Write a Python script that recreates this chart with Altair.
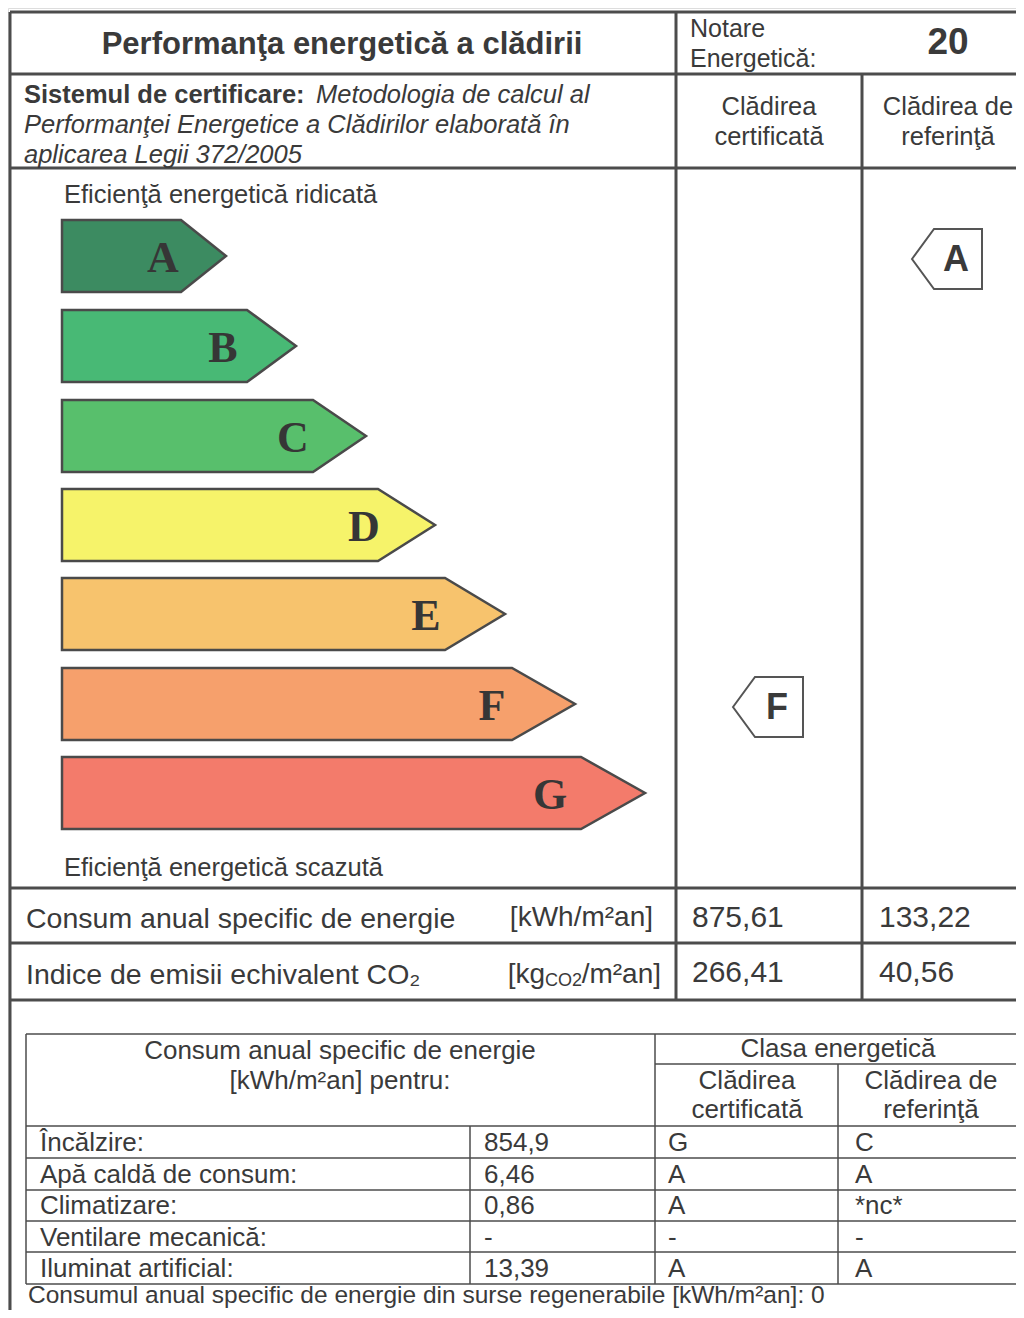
import altair as alt
import pandas as pd

# ------------------------------------------------------------------ data
title_text = "Performanţa energetică a clădirii"
rating_label = ["Notare", "Energetică:"]
rating_value = 20
system_bold = "Sistemul de certificare:"
system_lines = ["Metodologia de calcul al",
                "Performanţei Energetice a Clădirilor elaborată în",
                "aplicarea Legii 372/2005"]
col_cert = ["Clădirea", "certificată"]
col_ref = ["Clădirea de", "referinţă"]
classes = ["A", "B", "C", "D", "E", "F", "G"]
top_label = "Eficienţă energetică ridicată"
bottom_label = "Eficienţă energetică scazută"
certified_class = "F"
reference_class = "A"
summary_labels = ["Consum anual specific de energie", "Indice de emisii echivalent CO₂"]
summary_cert = [875.61, 266.41]
summary_ref = [133.22, 40.56]
detail_head = ["Consum anual specific de energie", "[kWh/m²an] pentru:"]
detail_class_head = "Clasa energetică"
detail_uses = ["Încălzire:", "Apă caldă de consum:", "Climatizare:",
               "Ventilare mecanică:", "Iluminat artificial:"]
detail_values = [854.9, 6.46, 0.86, None, 13.39]
detail_class_cert = ["G", "A", "A", "-", "A"]
detail_class_ref = ["C", "A", "*nc*", "-", "A"]
renewable_label = "Consumul anual specific de energie din surse regenerabile  [kWh/m²an]: "
renewable_value = 0

# ------------------------------------------------------------------ styles / layout
class_colors = ["#3c8b61", "#48b975", "#58bf6c", "#f6f36a", "#f7c36d", "#f6a06c", "#f37b6b"]
INK = "#3a3a3a"
LINE = "#4c4c4c"
W, H = 1008, 1302
X0, Y0 = 8, 8
XS = alt.Scale(domain=[X0, X0 + W], nice=False, zero=False)
YS = alt.Scale(domain=[Y0, Y0 + H], nice=False, zero=False, reverse=True)

row_y = [256, 346, 436, 525, 614, 704, 793]
tip_x = [226, 296, 366, 435, 505, 575, 645]
tip_len = [45, 49, 53, 57, 60, 63, 64]
letter_x = [163, 223, 293, 364, 426, 492, 550]
bar_left = 62
bar_half = 36


def fmt(v):
    if v is None:
        return "-"
    return str(v).replace(".", ",")


# ------------------------------------------------------------------ rules (table lines)
segs = []
def seg(x, x2, y, y2, w):
    segs.append(dict(x=x, x2=x2, y=y, y2=y2, w=w))

for yy in [12, 74, 168, 888, 943, 1000]:
    seg(10, 1030, yy, yy, 3)
seg(10, 10, 12, 1318, 3)
seg(676, 676, 12, 1000, 3)
seg(862, 862, 74, 1000, 3)
for yy in [1034, 1126, 1158, 1190, 1221, 1252, 1284]:
    seg(26, 1020, yy, yy, 1.5)
seg(655, 1020, 1064, 1064, 1.5)
seg(26, 26, 1034, 1284, 1.5)
seg(655, 655, 1034, 1284, 1.5)
seg(1020, 1020, 1034, 1284, 1.5)
seg(838, 838, 1064, 1284, 1.5)
seg(470, 470, 1126, 1284, 1.5)
seg_df = pd.DataFrame(segs)

rules = alt.Chart(seg_df).mark_rule(color=LINE).encode(
    x=alt.X("x:Q", scale=XS, axis=None),
    x2="x2:Q",
    y=alt.Y("y:Q", scale=YS, axis=None),
    y2="y2:Q",
    strokeWidth=alt.StrokeWidth("w:Q", scale=None),
)

# ------------------------------------------------------------------ class arrows
arrow_pts = []
for i, c in enumerate(classes):
    top, bot, mid = row_y[i] - bar_half, row_y[i] + bar_half, row_y[i]
    arrow_pts.append(dict(cls=c, x=bar_left, y=top, y2=bot))
    arrow_pts.append(dict(cls=c, x=tip_x[i] - tip_len[i], y=top, y2=bot))
    arrow_pts.append(dict(cls=c, x=tip_x[i], y=mid, y2=mid))
arrow_df = pd.DataFrame(arrow_pts)

arrows = alt.Chart(arrow_df).mark_area(stroke="#4a4a4a", strokeWidth=2.5,
                                       interpolate="linear", opacity=1).encode(
    x=alt.X("x:Q", scale=XS, axis=None),
    y=alt.Y("y:Q", scale=YS, axis=None),
    y2="y2:Q",
    detail="cls:N",
    color=alt.Color("cls:N", scale=alt.Scale(domain=classes, range=class_colors), legend=None),
)

letter_df = pd.DataFrame([
    dict(cls=c, x=letter_x[i], y=row_y[i] + 3)
    for i, c in enumerate(classes)
])
letters = alt.Chart(letter_df).mark_text(
    font="Liberation Serif", fontWeight="bold", fontSize=44, color="#363636",
    align="center", baseline="middle").encode(
    x=alt.X("x:Q", scale=XS, axis=None),
    y=alt.Y("y:Q", scale=YS, axis=None),
    text="cls:N",
)

# ------------------------------------------------------------------ indicator arrows
ind_specs = [(certified_class, 733, 803), (reference_class, 912, 982)]
ind_pts, ind_txt = [], []
for c, tx_, rx in ind_specs:
    i = classes.index(c)
    cy = row_y[i] + 3
    ind_pts.append(dict(k=c + "i", x=tx_, y=cy, y2=cy))
    ind_pts.append(dict(k=c + "i", x=tx_ + 22, y=cy - 30, y2=cy + 30))
    ind_pts.append(dict(k=c + "i", x=rx, y=cy - 30, y2=cy + 30))
    ind_txt.append(dict(t=c, x=(tx_ + 22 + rx) / 2 - 2, y=cy + 1))
ind = alt.Chart(pd.DataFrame(ind_pts)).mark_area(
    fill="white", stroke="#555555", strokeWidth=2, interpolate="linear").encode(
    x=alt.X("x:Q", scale=XS, axis=None),
    y=alt.Y("y:Q", scale=YS, axis=None),
    y2="y2:Q",
    detail="k:N",
)
ind_letters = alt.Chart(pd.DataFrame(ind_txt)).mark_text(
    font="Liberation Sans", fontWeight="bold", fontSize=36, color="#3a3a3a",
    align="center", baseline="middle").encode(
    x=alt.X("x:Q", scale=XS, axis=None),
    y=alt.Y("y:Q", scale=YS, axis=None),
    text="t:N",
)

# ------------------------------------------------------------------ texts
T = []
def tx(x, y, t, size=26, weight="normal", style="normal", align="left", color=INK):
    T.append(dict(x=x, y=y, t=t, size=size, weight=weight, style=style, align=align, color=color))

tx(342, 45, title_text, 31, "bold", align="center")
tx(690, 29, rating_label[0], 25)
tx(690, 59, rating_label[1], 25)
tx(948, 43, str(rating_value), 37, "bold", align="center")
tx(24, 95, system_bold, 25.5, "bold")
tx(316, 95, system_lines[0], 25.5, style="italic")
tx(24, 125, system_lines[1], 25.5, style="italic")
tx(24, 155, system_lines[2], 25.5, style="italic")
tx(769, 107, col_cert[0], 25.5, align="center")
tx(769, 137, col_cert[1], 25.5, align="center")
tx(948, 107, col_ref[0], 25.5, align="center")
tx(948, 137, col_ref[1], 25.5, align="center")
tx(64, 195, top_label, 25.5)
tx(64, 868, bottom_label, 25.5)

tx(26, 919, summary_labels[0], 28.5)
tx(653, 918, "[kWh/m²an]", 28, align="right")
tx(26, 975, summary_labels[1], 28.5)
tx(545, 975, "[kg", 28, align="right")
tx(582, 981, "CO2", 18, align="right")
tx(661, 975, "/m²an]", 28, align="right")
for j, yy in enumerate([918, 973]):
    tx(692, yy, fmt(summary_cert[j]), 30)
    tx(879, yy, fmt(summary_ref[j]), 30)

tx(340, 1051, detail_head[0], 26, align="center")
tx(340, 1081, detail_head[1], 26, align="center")
tx(838, 1049, detail_class_head, 26, align="center")
tx(747, 1081, col_cert[0], 26, align="center")
tx(747, 1110, col_cert[1], 26, align="center")
tx(931, 1081, col_ref[0], 26, align="center")
tx(931, 1110, col_ref[1], 26, align="center")
for j, yy in enumerate([1143, 1175, 1206, 1238, 1269]):
    tx(40, yy, detail_uses[j], 26)
    tx(484, yy, fmt(detail_values[j]), 26)
    tx(668, yy, detail_class_cert[j], 26)
    tx(855, yy, detail_class_ref[j], 26)
tx(28, 1296, renewable_label + str(renewable_value), 24.5)

text_df = pd.DataFrame(T)
text_layers = []
for (w, s, a), g in text_df.groupby(["weight", "style", "align"]):
    text_layers.append(
        alt.Chart(g).mark_text(font="Liberation Sans", fontWeight=w, fontStyle=s,
                               align=a, baseline="middle").encode(
            x=alt.X("x:Q", scale=XS, axis=None),
            y=alt.Y("y:Q", scale=YS, axis=None),
            text="t:N",
            size=alt.Size("size:Q", scale=None),
            color=alt.Color("color:N", scale=None),
        )
    )

chart = alt.layer(rules, arrows, letters, ind, ind_letters, *text_layers).properties(
    width=W, height=H, padding=0, autosize="none"
).configure_view(stroke=None).configure(background="white")

chart.save("out.html", embed_options={"renderer": "svg", "actions": False})
